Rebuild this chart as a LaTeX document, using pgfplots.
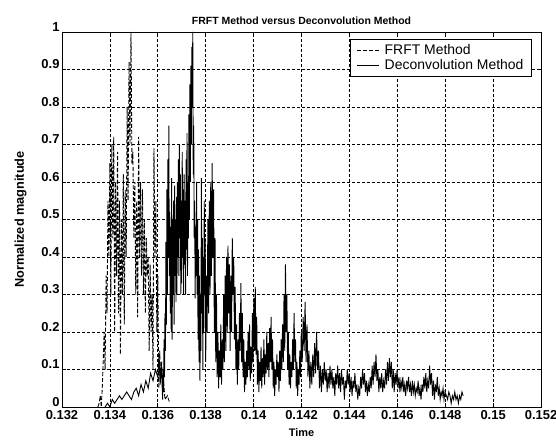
\documentclass[border=0pt]{standalone}
\usepackage{pgfplots}
\pgfplotsset{compat=1.18}
\usepackage{fontspec}
\setmainfont{Liberation Sans}
\begin{document}
\begin{tikzpicture}
\begin{axis}[
  scale only axis, width=479bp, height=375bp,
  xmin=0.132, xmax=0.152, ymin=0, ymax=1,
  xtick={0.132,0.134,0.136,0.138,0.140,0.142,0.144,0.146,0.148,0.150,0.152},
  xticklabels={0.132,0.134,0.136,0.138,0.14,0.142,0.144,0.146,0.148,0.15,0.152},
  ytick={0,0.1,0.2,0.3,0.4,0.5,0.6,0.7,0.8,0.9,1},
  yticklabels={0,0.1,0.2,0.3,0.4,0.5,0.6,0.7,0.8,0.9,1},
  scaled x ticks=false,
  tick align=inside, major tick length=4bp,
  tick style={black, line width=0.7pt},
  grid=major, grid style={black, line width=0.7pt, dash pattern=on 3bp off 2bp},
  axis line style={black, line width=0.9pt},
  tick label style={font=\fontsize{13}{14}\selectfont\bfseries},
  xticklabel style={yshift=0bp},
  yticklabel style={yshift=5bp, xshift=1bp},
  title={\bfseries FRFT Method versus Deconvolution Method},
  title style={font=\fontsize{10.5}{12}\selectfont, yshift=-2bp},
  xlabel={\bfseries Time}, ylabel={\bfseries Normalized magnitude},
  xlabel style={font=\fontsize{11}{12}\selectfont, yshift=-2bp},
  ylabel style={font=\fontsize{12.8}{14}\selectfont, yshift=8bp},
  legend style={at={(0.981,0.981)}, anchor=north east, draw=black, line width=0.8pt,
    font=\fontsize{14}{16}\selectfont, inner xsep=6bp, inner ysep=3bp, row sep=-0.5bp,
    column sep=3bp},
  legend cell align=left,
  legend image code/.code={\draw[#1, line width=0.8pt] (0cm,0cm) -- (0.78cm,0cm);},
]
\addplot[black, line width=0.9pt, dash pattern=on 4pt off 2pt] coordinates {
(0.13350,0.00) (0.13355,0.01) (0.13360,0.03) (0.13364,0.00) (0.13368,0.05)
(0.13372,0.12) (0.13376,0.20) (0.13380,0.10) (0.13384,0.35) (0.13388,0.25)
(0.13392,0.55) (0.13396,0.40) (0.13400,0.65) (0.13404,0.30) (0.13408,0.70)
(0.13412,0.45) (0.13416,0.72) (0.13420,0.20) (0.13424,0.60) (0.13428,0.35)
(0.13432,0.68) (0.13436,0.25) (0.13440,0.55) (0.13444,0.14) (0.13448,0.50)
(0.13452,0.30) (0.13456,0.62) (0.13460,0.22) (0.13464,0.58) (0.13468,0.40)
(0.13472,0.80) (0.13476,0.55) (0.13480,0.92) (0.13484,0.70) (0.13488,1.00)
(0.13492,0.65) (0.13496,0.68) (0.13500,0.45) (0.13504,0.60) (0.13508,0.30)
(0.13512,0.55) (0.13516,0.24) (0.13520,0.72) (0.13524,0.40) (0.13528,0.60)
(0.13532,0.35) (0.13536,0.58) (0.13540,0.30) (0.13544,0.50) (0.13548,0.25)
(0.13552,0.45) (0.13556,0.35) (0.13560,0.40) (0.13564,0.15) (0.13568,0.38)
(0.13572,0.20) (0.13576,0.30) (0.13580,0.10) (0.13584,0.69) (0.13588,0.40)
(0.13592,0.55) (0.13596,0.20) (0.13600,0.35) (0.13604,0.05) (0.13608,0.15)
(0.13612,0.08) (0.13616,0.12) (0.13620,0.04) (0.13625,0.06) (0.13630,0.02)
(0.13640,0.03) (0.13650,0.01)
};
\addlegendentry{FRFT Method}
\addplot[black, line width=0.9pt] coordinates {
(0.13380,0.00) (0.13390,0.01) (0.13400,0.00) (0.13410,0.02) (0.13420,0.01)
(0.13430,0.02) (0.13440,0.03) (0.13450,0.02) (0.13460,0.03) (0.13470,0.04)
(0.13480,0.03) (0.13490,0.02) (0.13500,0.04) (0.13510,0.05) (0.13520,0.03)
(0.13530,0.06) (0.13540,0.04) (0.13550,0.07) (0.13560,0.05) (0.13570,0.09)
(0.13580,0.07) (0.13590,0.10) (0.13600,0.08) (0.13605,0.14) (0.13610,0.06)
(0.13615,0.12)
(0.13620,0.02) (0.13622,0.10) (0.13624,0.04) (0.13626,0.18) (0.13628,0.08)
(0.13630,0.25) (0.13632,0.15) (0.13634,0.44) (0.13636,0.22) (0.13638,0.58)
(0.13640,0.30) (0.13642,0.66) (0.13644,0.40) (0.13646,0.75) (0.13648,0.35)
(0.13650,0.52) (0.13652,0.25) (0.13654,0.48) (0.13656,0.20) (0.13658,0.61)
(0.13660,0.18) (0.13662,0.50) (0.13664,0.30) (0.13666,0.55) (0.13668,0.22)
(0.13670,0.59) (0.13672,0.35) (0.13674,0.50) (0.13676,0.28) (0.13678,0.56)
(0.13680,0.30) (0.13682,0.60) (0.13684,0.40) (0.13686,0.66) (0.13688,0.35)
(0.13690,0.70) (0.13692,0.45) (0.13694,0.62) (0.13696,0.30) (0.13698,0.55)
(0.13700,0.33) (0.13702,0.68) (0.13704,0.40) (0.13706,0.58) (0.13708,0.30)
(0.13710,0.62) (0.13712,0.38) (0.13714,0.55) (0.13716,0.30) (0.13718,0.66)
(0.13720,0.42) (0.13722,0.73) (0.13724,0.35) (0.13726,0.60) (0.13728,0.45)
(0.13730,0.78) (0.13732,0.50) (0.13734,0.86) (0.13736,0.60) (0.13738,0.91)
(0.13740,0.70) (0.13742,0.96) (0.13744,0.80) (0.13746,1.00) (0.13748,0.62)
(0.13750,0.75) (0.13752,0.45) (0.13754,0.55) (0.13756,0.29) (0.13758,0.48)
(0.13760,0.35) (0.13762,0.60) (0.13764,0.30) (0.13766,0.50) (0.13768,0.18)
(0.13770,0.42) (0.13772,0.12) (0.13774,0.35) (0.13776,0.07) (0.13778,0.30)
(0.13780,0.15) (0.13782,0.61) (0.13784,0.25) (0.13786,0.45) (0.13788,0.10)
(0.13790,0.40) (0.13792,0.20) (0.13794,0.55) (0.13796,0.30) (0.13798,0.45)
(0.13800,0.12)
(0.13803,0.35) (0.13806,0.20) (0.13809,0.50) (0.13812,0.25) (0.13815,0.55)
(0.13818,0.30) (0.13821,0.60) (0.13824,0.35) (0.13827,0.65) (0.13830,0.40)
(0.13833,0.58) (0.13836,0.20) (0.13839,0.45) (0.13842,0.12) (0.13845,0.30)
(0.13848,0.08) (0.13851,0.20) (0.13854,0.05) (0.13857,0.15) (0.13860,0.08)
(0.13863,0.22) (0.13866,0.06) (0.13869,0.18) (0.13872,0.10) (0.13875,0.30)
(0.13878,0.12) (0.13881,0.35) (0.13884,0.15) (0.13887,0.40) (0.13890,0.20)
(0.13893,0.43) (0.13896,0.25) (0.13899,0.38) (0.13902,0.15) (0.13905,0.35)
(0.13908,0.20) (0.13911,0.45) (0.13914,0.30) (0.13917,0.40) (0.13920,0.18)
(0.13923,0.32) (0.13926,0.10) (0.13929,0.22) (0.13932,0.06) (0.13935,0.18)
(0.13938,0.10) (0.13941,0.25) (0.13944,0.15) (0.13947,0.33) (0.13950,0.12)
(0.13953,0.25) (0.13956,0.08) (0.13959,0.18) (0.13962,0.04) (0.13965,0.12)
(0.13968,0.06) (0.13971,0.15) (0.13974,0.08) (0.13977,0.20) (0.13980,0.10)
(0.13983,0.22) (0.13986,0.07) (0.13989,0.16) (0.13992,0.09) (0.13995,0.25)
(0.13998,0.12) (0.14001,0.29) (0.14004,0.15) (0.14007,0.32) (0.14010,0.14)
(0.14013,0.24) (0.14016,0.06) (0.14019,0.15) (0.14022,0.04) (0.14025,0.12)
(0.14028,0.07) (0.14031,0.16) (0.14034,0.05) (0.14037,0.13) (0.14040,0.08)
(0.14043,0.18) (0.14046,0.06) (0.14049,0.14) (0.14052,0.09) (0.14055,0.20)
(0.14058,0.10) (0.14061,0.17) (0.14064,0.08) (0.14067,0.21) (0.14070,0.12)
(0.14073,0.24) (0.14076,0.10) (0.14079,0.18) (0.14082,0.05) (0.14085,0.12)
(0.14088,0.03) (0.14091,0.10) (0.14094,0.06) (0.14097,0.14) (0.14100,0.08)
(0.14103,0.12) (0.14106,0.04) (0.14109,0.15) (0.14112,0.07) (0.14115,0.18)
(0.14118,0.10) (0.14121,0.22) (0.14124,0.12) (0.14127,0.30) (0.14130,0.15)
(0.14133,0.38) (0.14136,0.20) (0.14139,0.30) (0.14142,0.10) (0.14145,0.20)
(0.14148,0.06) (0.14151,0.14) (0.14154,0.05) (0.14157,0.12) (0.14160,0.08)
(0.14163,0.18) (0.14166,0.10) (0.14169,0.25) (0.14172,0.12) (0.14175,0.18)
(0.14178,0.05) (0.14181,0.12) (0.14184,0.03) (0.14187,0.10) (0.14190,0.06)
(0.14193,0.15) (0.14196,0.08) (0.14199,0.20)
(0.14203,0.12) (0.14207,0.24) (0.14211,0.15) (0.14215,0.28) (0.14219,0.12)
(0.14223,0.22) (0.14227,0.08) (0.14231,0.15) (0.14235,0.05) (0.14239,0.12)
(0.14243,0.06) (0.14247,0.14) (0.14251,0.08) (0.14255,0.17) (0.14259,0.09)
(0.14263,0.20) (0.14267,0.10) (0.14271,0.15) (0.14275,0.05) (0.14279,0.11)
(0.14283,0.04) (0.14287,0.10) (0.14291,0.06) (0.14295,0.12) (0.14299,0.07)
(0.14303,0.10) (0.14307,0.04) (0.14311,0.09) (0.14315,0.05) (0.14319,0.11)
(0.14323,0.06) (0.14327,0.10) (0.14331,0.05) (0.14335,0.08) (0.14339,0.03)
(0.14343,0.09) (0.14347,0.06) (0.14351,0.11) (0.14355,0.05) (0.14359,0.09)
(0.14363,0.04) (0.14367,0.10) (0.14371,0.06) (0.14375,0.08) (0.14379,0.02)
(0.14383,0.07) (0.14387,0.05) (0.14391,0.10) (0.14395,0.06) (0.14399,0.09)
(0.14403,0.04) (0.14407,0.08) (0.14411,0.03) (0.14415,0.07) (0.14419,0.05)
(0.14423,0.09) (0.14427,0.04) (0.14431,0.06) (0.14435,0.02) (0.14439,0.05)
(0.14443,0.03) (0.14447,0.08) (0.14451,0.05) (0.14455,0.10) (0.14459,0.06)
(0.14463,0.09) (0.14467,0.04) (0.14471,0.07) (0.14475,0.03) (0.14479,0.06)
(0.14483,0.04) (0.14487,0.08) (0.14491,0.05) (0.14495,0.11) (0.14499,0.06)
(0.14503,0.12) (0.14507,0.08) (0.14511,0.14) (0.14515,0.07) (0.14519,0.10)
(0.14523,0.04) (0.14527,0.08) (0.14531,0.05) (0.14535,0.09) (0.14539,0.04)
(0.14543,0.07) (0.14547,0.05) (0.14551,0.10) (0.14555,0.06) (0.14559,0.12)
(0.14563,0.07) (0.14567,0.13) (0.14571,0.08) (0.14575,0.12) (0.14579,0.05)
(0.14583,0.10) (0.14587,0.04) (0.14591,0.09) (0.14595,0.06) (0.14599,0.10)
(0.14603,0.05) (0.14607,0.08) (0.14611,0.04) (0.14615,0.07) (0.14619,0.05)
(0.14623,0.08) (0.14627,0.04) (0.14631,0.06) (0.14635,0.03) (0.14639,0.07)
(0.14643,0.05) (0.14647,0.08) (0.14651,0.04) (0.14655,0.06) (0.14659,0.03)
(0.14663,0.07) (0.14667,0.04) (0.14671,0.06) (0.14675,0.03) (0.14679,0.05)
(0.14683,0.04) (0.14687,0.07) (0.14691,0.03) (0.14695,0.05) (0.14699,0.02)
(0.14703,0.06) (0.14707,0.04) (0.14711,0.08) (0.14715,0.05) (0.14719,0.09)
(0.14723,0.04) (0.14727,0.07) (0.14731,0.05) (0.14735,0.11) (0.14739,0.06)
(0.14743,0.09) (0.14747,0.03) (0.14751,0.07) (0.14755,0.02) (0.14759,0.06)
(0.14763,0.04) (0.14767,0.08) (0.14771,0.03) (0.14775,0.05) (0.14779,0.02)
(0.14783,0.04) (0.14787,0.03) (0.14791,0.05) (0.14795,0.02) (0.14799,0.04)
(0.14805,0.03) (0.14810,0.02) (0.14815,0.04) (0.14820,0.03) (0.14825,0.01)
(0.14830,0.03) (0.14835,0.02) (0.14840,0.04) (0.14845,0.02) (0.14850,0.03)
(0.14855,0.01) (0.14860,0.03) (0.14865,0.02) (0.14870,0.04) (0.14875,0.03)
};
\addlegendentry{Deconvolution Method}
\end{axis}
\pgfresetboundingbox
\path (-62bp,-35bp) rectangle (494bp,407bp);
\end{tikzpicture}
\end{document}
